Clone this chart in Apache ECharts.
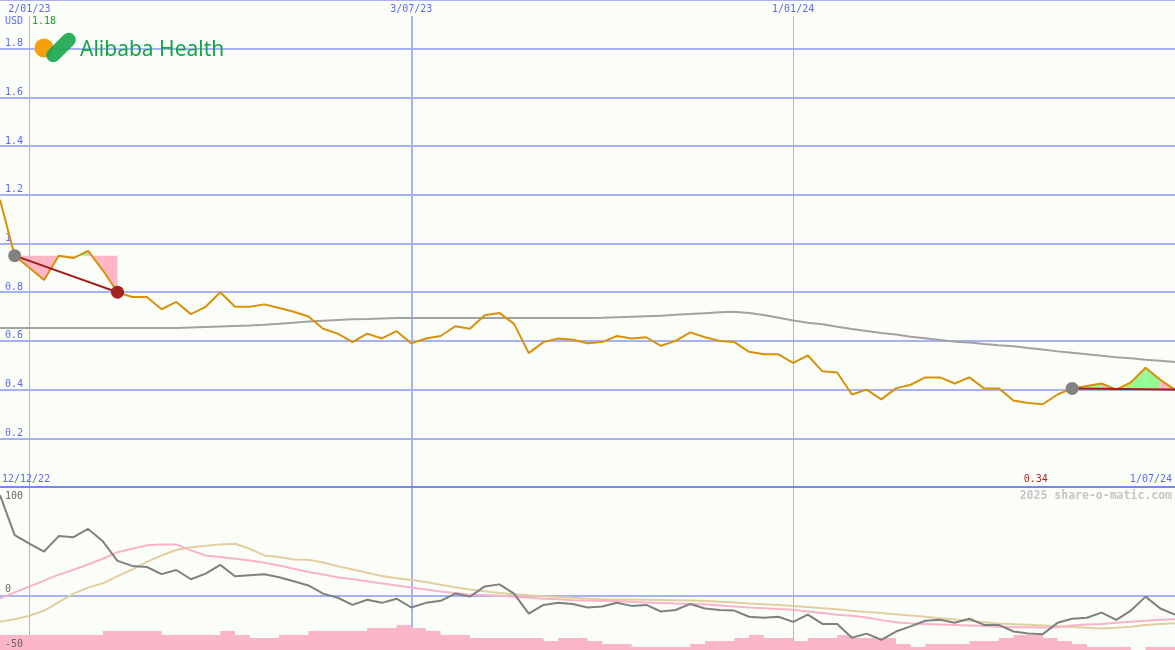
<!DOCTYPE html>
<html>
<head>
<meta charset="utf-8">
<script src="https://cdn.jsdelivr.net/npm/echarts@6/dist/echarts.min.js"></script>
<style>
html,body{margin:0;padding:0;background:#fbfdf9;}
#chart{width:1175px;height:650px;}
</style>
</head>
<body>
<div id="chart"></div>
<script>
// ---------------- DATA ----------------
const firstWeekUTC = [2022, 11, 19];            // first weekly point (19 Dec 2022)
const topTickLabels = ['2/01/23', '3/07/23', '1/01/24'];
const rangeLabels = ['12/12/22', '1/07/24'];
const currency = 'USD';
const oscTicks = [100, 0, -50];

const price = [1.18,0.95,0.90,0.85,0.95,0.94,0.97,0.89,0.80,0.78,
  0.78,0.73,0.76,0.71,0.74,0.80,0.74,0.74,0.75,0.735,
  0.72,0.70,0.65,0.63,0.595,0.63,0.61,0.64,0.59,0.61,
  0.62,0.66,0.65,0.705,0.715,0.67,0.55,0.595,0.61,0.605,
  0.59,0.595,0.62,0.61,0.615,0.58,0.60,0.635,0.615,0.60,
  0.595,0.555,0.545,0.545,0.51,0.54,0.475,0.47,0.38,0.40,
  0.36,0.405,0.42,0.45,0.45,0.425,0.45,0.405,0.405,0.355,
  0.345,0.34,0.38,0.405,0.415,0.425,0.40,0.43,0.49,0.44,0.40];

const priceMA = [0.653,0.653,0.653,0.653,0.653,0.653,0.653,0.653,0.653,0.653,
  0.653,0.653,0.653,0.655,0.657,0.659,0.661,0.663,0.666,0.670,
  0.675,0.680,0.683,0.686,0.689,0.690,0.692,0.694,0.694,0.694,
  0.694,0.694,0.694,0.694,0.694,0.694,0.694,0.694,0.694,0.694,
  0.694,0.695,0.697,0.699,0.701,0.703,0.707,0.710,0.714,0.718,
  0.720,0.715,0.706,0.695,0.684,0.675,0.668,0.658,0.649,0.641,
  0.632,0.626,0.617,0.611,0.604,0.597,0.593,0.587,0.582,0.578,
  0.571,0.565,0.557,0.551,0.545,0.539,0.533,0.529,0.523,0.518,0.513];

const oscillator = [92.5,55.7,48,40.6,54.8,53.8,61.4,50,32,27.4,
  26.4,19.8,23.6,15.1,20.3,28.3,17.9,18.9,19.8,17,
  13.2,9.4,1.9,-1.9,-8.5,-3.8,-6.6,-2.8,-10.9,-6.6,
  -4.7,1.9,-0.9,8.5,10.4,1.9,-16.5,-8.5,-6.6,-7.6,
  -10.9,-9.9,-6.6,-9.4,-8.5,-14.6,-13.2,-7.6,-11.8,-13.2,
  -13.7,-19.4,-20.3,-19.4,-24.1,-17.5,-26,-26,-38.7,-34.9,
  -40.6,-33,-28.3,-23.1,-22.2,-25,-21.2,-26.9,-26.9,-33,
  -34.9,-35.4,-25,-21.2,-20.3,-15.6,-22.2,-13.7,-0.9,-11.8,-17.5];

const oscFast = [-2.5,3,8.3,13.9,19.4,23.8,28.7,34,40,43.2,
  46.3,47.2,47.2,41.7,37,35.5,34,32.4,30.2,27.8,
  24.7,21.7,19.4,17,15.1,13.2,11.3,9.4,7.6,5.7,
  3.8,2.4,0.9,0.5,0,-0.9,-1.9,-2.8,-3.3,-4.2,
  -4.5,-4.7,-5.2,-5.7,-6.2,-6.7,-7.2,-7.6,-8,-9,
  -10,-10.8,-11.5,-12.3,-13,-14.5,-16,-17.5,-18.5,-20,
  -22.5,-24.5,-25.5,-26,-26.5,-27,-27.5,-28,-28.5,-29,
  -29,-29.3,-29,-27.5,-26.5,-26,-25,-24,-23,-22.2,-21.6];

const oscSlow = [-24,-21.7,-18.4,-13.9,-6,1.9,7.4,11.4,18,24,
  31,37,42,44.5,46,47.2,47.8,43.2,37,35.5,
  33.3,33,30.5,27,24,21,18,16,14.5,12.5,
  10,7.7,5.7,4,2.5,1.3,0.3,-0.6,-1.3,-2,
  -2.8,-3.4,-3.5,-3.6,-3.7,-3.9,-4.2,-4.5,-4.9,-5.6,
  -6.3,-7.1,-7.9,-8.7,-9.5,-10.5,-11.5,-12.5,-13.9,-15,
  -16,-17,-18.3,-19.5,-20.8,-22,-23.2,-24.4,-25.6,-26.2,
  -26.8,-27.5,-28.2,-28.9,-29.5,-30.2,-29.5,-28.5,-27,-26,-25.3];

const volume = [15,15,15,15,15,15,15,19,19,19,
  19,15,15,15,15,19,15,12,12,15,
  15,19,19,19,19,22,22,25,22,19,
  15,15,12,12,12,12,12,9,12,12,
  9,6,6,3,3,3,3,6,9,9,
  12,15,12,12,9,12,12,15,12,12,
  12,6,3,6,6,6,9,9,12,15,
  15,12,9,6,3,3,3,0,3,3,3];

const tradeEntryIdx = [1, 73];
const tradeExitIdx = [8, 80];
const tradeClosed = [true, false];

// ---------------- BUILD ----------------
function fmtDate(d){
  return d.getUTCDate() + '/' + String(d.getUTCMonth()+1).padStart(2,'0') + '/' + String(d.getUTCFullYear()).slice(2);
}
const categories = price.map((_, i) => fmtDate(new Date(Date.UTC(firstWeekUTC[0], firstWeekUTC[1], firstWeekUTC[2] + 7*i))));
const topTickIdx = topTickLabels.map(l => categories.indexOf(l));

const fillData = [];
const tradeLines = [];
const entryPts = [];
const exitPts = [];
tradeEntryIdx.forEach((e, k) => {
  const x = tradeExitIdx[k];
  const lvl = price[e];
  for (let i = e; i < x; i++) fillData.push([i, price[i], price[i+1], lvl]);
  tradeLines.push([[e, price[e]], [x, price[x]]]);
  entryPts.push([e, price[e]]);
  if (tradeClosed[k]) exitPts.push([x, price[x]]);
});

const MONO = '"DejaVu Sans Mono", monospace';
const AXIS_BLUE = '#5b6bef';
const GRID_BLUE = '#a7b2f3';
const PINK = '#ffb6c4';
const GREEN = '#98f898';

const chart = echarts.init(document.getElementById('chart'), null, {renderer: 'canvas'});

const option = {
  animation: false,
  backgroundColor: '#fbfdf9',
  grid: [
    {left: 0, right: 0, top: 0, height: 487},
    {left: 0, right: 0, top: 487, height: 163}
  ],
  xAxis: [
    {type: 'category', gridIndex: 0, data: categories, boundaryGap: false, position: 'top',
     axisLine: {show: false}, axisTick: {show: false}, splitLine: {show: false},
     axisLabel: {inside: true, margin: 4, interval: (i) => topTickIdx.includes(i),
       color: AXIS_BLUE, fontFamily: MONO, fontSize: 10, hideOverlap: false}},
    {type: 'category', gridIndex: 1, data: categories, boundaryGap: false,
     axisLine: {show: false}, axisTick: {show: false}, axisLabel: {show: false}, splitLine: {show: false}}
  ],
  yAxis: [
    {type: 'value', gridIndex: 0, min: 0, max: 2, interval: 0.2,
     axisLine: {show: false}, axisTick: {show: false},
     splitLine: {show: true, lineStyle: {color: GRID_BLUE, width: 2}},
     axisLabel: {inside: true, margin: 5, verticalAlign: 'bottom', showMinLabel: false, showMaxLabel: false,
       formatter: v => String(Math.round(v*10)/10), color: AXIS_BLUE, fontFamily: MONO, fontSize: 10}},
    {type: 'value', gridIndex: 1, min: -50, max: 100,
     axisLine: {show: false}, axisTick: {show: false}, axisLabel: {show: false}, splitLine: {show: false}},
    {type: 'value', gridIndex: 1, min: 0, max: 163,
     axisLine: {show: false}, axisTick: {show: false}, axisLabel: {show: false}, splitLine: {show: false}}
  ],
  series: []
};
chart.setOption(option);

// vertical date lines: below the date-label band in the top panel, full height in the bottom panel
const bandBottomVal = chart.convertFromPixel({yAxisIndex: 0}, 16);
const topVLines = topTickIdx.map((idx, k) => [
  {coord: [idx, bandBottomVal], lineStyle: {width: k === 1 ? 2 : 1}},
  {coord: [idx, 0]}
]);
const botVLines = topTickIdx.map((idx, k) => ({xAxis: idx, lineStyle: {width: k === 1 ? 2 : 1}}));

const series = [
  // bottom panel
  {type: 'line', name: 'slow', xAxisIndex: 1, yAxisIndex: 1, data: oscSlow, symbol: 'none', z: 6,
   lineStyle: {color: '#e2cfa0', width: 2},
   markLine: {silent: true, symbol: 'none', label: {show: false},
     lineStyle: {color: GRID_BLUE, type: 'solid'},
     data: botVLines.concat([{yAxis: 0, lineStyle: {width: 2}}])}},
  {type: 'line', name: 'volume', xAxisIndex: 1, yAxisIndex: 2, data: volume, step: 'end', symbol: 'none', z: 7,
   lineStyle: {width: 0}, areaStyle: {color: '#fbb5c9', opacity: 1, origin: 'start'}},
  {type: 'line', name: 'fast', xAxisIndex: 1, yAxisIndex: 1, data: oscFast, symbol: 'none', z: 8,
   lineStyle: {color: '#f9b3c8', width: 2}},
  {type: 'line', name: 'osc', xAxisIndex: 1, yAxisIndex: 1, data: oscillator, symbol: 'none', z: 9,
   lineStyle: {color: '#808080', width: 2}},
  // top panel
  {type: 'line', name: 'ma', xAxisIndex: 0, yAxisIndex: 0, data: priceMA, symbol: 'none', z: 6,
   lineStyle: {color: '#a2a2a2', width: 2},
   markLine: {silent: true, symbol: 'none', label: {show: false},
     lineStyle: {color: GRID_BLUE, type: 'solid'},
     data: topVLines.concat([{yAxis: 0, lineStyle: {width: 2, color: '#7886ef'}}])}},
  {type: 'custom', name: 'tradeFill', xAxisIndex: 0, yAxisIndex: 0, data: fillData, z: 7,
   encode: {x: 0, y: 1},
   renderItem: function (params, api) {
     const i = api.value(0), a = api.value(1), b = api.value(2), lvl = api.value(3);
     const pts = [api.coord([i, a]), api.coord([i+1, b]), api.coord([i+1, lvl]), api.coord([i, lvl])];
     return {type: 'polygon', shape: {points: pts}, style: {fill: b > lvl ? GREEN : PINK}};
   }},
  {type: 'line', name: 'price', xAxisIndex: 0, yAxisIndex: 0, data: price, symbol: 'none', z: 8,
   lineStyle: {color: '#d7910a', width: 2}}
].concat(tradeLines.map(d => ({type: 'line', xAxisIndex: 0, yAxisIndex: 0, data: d, symbol: 'none', z: 9,
   lineStyle: {color: '#a51c1c', width: 2}}))).concat([
  {type: 'scatter', xAxisIndex: 0, yAxisIndex: 0, data: entryPts, symbolSize: 13, z: 10,
   itemStyle: {color: '#828282', opacity: 1}},
  {type: 'scatter', xAxisIndex: 0, yAxisIndex: 0, data: exitPts, symbolSize: 13, z: 10,
   itemStyle: {color: '#a52222', opacity: 1}}
]);

// ---------------- TEXT / LOGO ----------------
const graphics = [];
const txt = (text, x, y, fill, font, align, vAlign) => ({type: 'text', x: x, y: y, z: 20, silent: true,
  style: {text: text, fill: fill, font: font, align: align || 'left', verticalAlign: vAlign || 'middle'}});
const F10 = '10px ' + MONO;

graphics.push(txt(currency, 5, 21, AXIS_BLUE, F10));
graphics.push(txt(String(price[0]), 32, 21, '#1f9d1f', F10));
graphics.push(txt(rangeLabels[0], 2, 479, AXIS_BLUE, F10));
graphics.push(txt(rangeLabels[1], 1172, 479, AXIS_BLUE, F10, 'right'));
const minVal = Math.min.apply(null, price);
const minIdx = price.indexOf(minVal);
const minX = chart.convertToPixel({xAxisIndex: 0}, minIdx);
graphics.push(txt(String(minVal), minX + 5, 479, '#b02424', F10, 'right'));
graphics.push(txt('2025 share-o-matic.com', 1172, 496, '#c6c6c6', 'bold 11.5px ' + MONO, 'right'));
const gridTop1 = 487;
oscTicks.forEach(v => {
  const py = chart.convertToPixel({yAxisIndex: 1}, v);
  if (py - 12 < gridTop1) graphics.push(txt(String(v), 5, py + 4, '#666666', F10, 'left', 'top'));
  else graphics.push(txt(String(v), 5, py - 1, '#666666', F10, 'left', 'bottom'));
});
// logo
graphics.push({type: 'circle', z: 20, silent: true, shape: {cx: 44, cy: 48, r: 9.5}, style: {fill: '#f6a00e'}});
graphics.push({type: 'rect', z: 21, silent: true, x: 61, y: 47.5, rotation: Math.PI/4,
  shape: {x: -18, y: -7, width: 36, height: 14, r: 7}, style: {fill: '#17a64c', opacity: 0.9}});
graphics.push(txt('Alibaba Health', 80, 50, '#16a34b', '21px "Noto Sans"'));

chart.setOption({series: series, graphic: graphics});
</script>
</body>
</html>
